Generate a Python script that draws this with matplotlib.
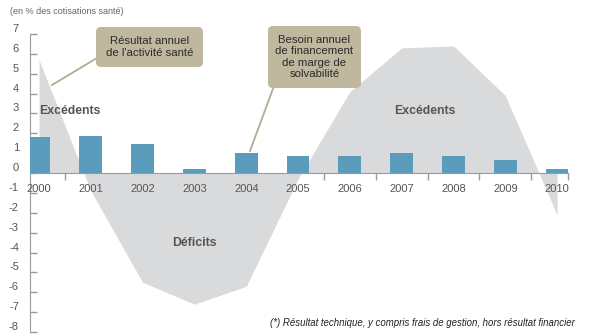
import matplotlib
matplotlib.use("Agg")
import matplotlib.pyplot as plt
from matplotlib.patches import FancyBboxPatch
from matplotlib.transforms import ScaledTranslation
import numpy as np

plt.rcParams['font.family'] = ['Liberation Sans', 'DejaVu Sans']

# Data
years = ["2000", "2001", "2002", "2003", "2004", "2005",
         "2006", "2007", "2008", "2009", "2010"]
# Annual financing need for the solvency margin (bars)
besoin_marge = [1.8, 1.85, 1.45, 0.2, 1.0, 0.85, 0.85, 1.0, 0.85, 0.65, 0.2]
# Annual result of the health activity (grey area)
resultat_sante = [5.7, -0.9, -5.5, -6.6, -5.7, -0.3, 4.1, 6.3, 6.4, 3.9, -2.1]
yticks = list(range(-8, 8))

W, H, DPI = 600, 336, 100
fig = plt.figure(figsize=(W / DPI, H / DPI), dpi=DPI)
ax = fig.add_axes([30 / W, 4 / H, 538 / W, 298 / H])

x = np.arange(len(years))
x_right = 10.21
ax.set_xlim(-0.174, x_right)
ax.set_ylim(-8, 7)

grey_area = '#d9dadc'
bar_col = '#5b9bbb'
axis_col = '#9a9a9a'
tan = '#c0b79f'

ax.fill_between(x, resultat_sante, 0, color=grey_area, linewidth=0, zorder=1)
ax.bar(x, besoin_marge, width=0.44, color=bar_col, zorder=3)

# Axes styling
for s in ['top', 'right']:
    ax.spines[s].set_visible(False)
ax.spines['bottom'].set_position(('data', 0))
ax.spines['bottom'].set_color(axis_col)
ax.spines['left'].set_color(axis_col)
ax.spines['bottom'].set_zorder(2.5)
ax.set_axisbelow(True)

ax.set_xticks(list(x[:-1] + 0.5) + [x_right])
ax.set_xticklabels([])
ax.tick_params(axis='x', direction='out', length=5, width=1, color=axis_col)

ax.set_yticks(yticks)
ax.set_yticklabels([str(v) for v in yticks])
ax.tick_params(axis='y', direction='in', length=5, width=1, color=axis_col,
               labelsize=8, labelcolor='#555555', pad=8)
shift = ScaledTranslation(0, 6 / DPI, fig.dpi_scale_trans)
for lab in ax.get_yticklabels():
    lab.set_transform(lab.get_transform() + shift)

# Year labels drawn above the grey area
for xi, yr in zip(x, years):
    ax.text(xi, -0.8, yr, ha='center', va='center', fontsize=8,
            color='#555555', zorder=4)

# Region labels
ax.text(0.6, 3.1, "Excédents", ha='center', va='center', fontsize=8.8,
        fontweight='bold', color='#555555', zorder=4)
ax.text(7.45, 3.1, "Excédents", ha='center', va='center', fontsize=8.8,
        fontweight='bold', color='#555555', zorder=4)
ax.text(2.99, -3.5, "Déficits", ha='center', va='center', fontsize=8.8,
        fontweight='bold', color='#555555', zorder=4)

# Callout boxes (pixel positions converted to inches)
def px(xp, yp):
    return xp / DPI, (H - yp) / DPI

def callout(x0, y0, x1, y1, lines, line_from, line_to):
    bx, by = px(x0, y1)
    box = FancyBboxPatch((bx, by), (x1 - x0) / DPI, (y1 - y0) / DPI,
                         boxstyle="round,pad=0,rounding_size=0.05",
                         transform=fig.dpi_scale_trans, facecolor=tan,
                         edgecolor='none', zorder=5)
    fig.patches.append(box)
    lx = [line_from[0] / DPI, line_to[0] / DPI]
    ly = [(H - line_from[1]) / DPI, (H - line_to[1]) / DPI]
    fig.add_artist(plt.Line2D(lx, ly, transform=fig.dpi_scale_trans,
                              color='#b5ab90', lw=1.3, zorder=4))
    cx, cy = px((x0 + x1) / 2, (y0 + y1) / 2)
    fig.text(cx, cy, lines, transform=fig.dpi_scale_trans, ha='center',
             va='center', fontsize=8.2, color='#2a2a2a', linespacing=1.15,
             zorder=6)

callout(96, 27, 203, 67, "Résultat annuel\nde l'activité santé",
        (97, 58), (52, 85))
callout(268, 26, 361, 88,
        "Besoin annuel\nde financement\nde marge de\nsolvabilité",
        (274, 86), (250, 151))

fig.text(10 / W, 1 - 12 / H, "(en % des cotisations santé)", ha='left',
         va='center', fontsize=6.5, color='#666666')
fig.text(575 / W, 1 - 323 / H,
         "(*) Résultat technique, y compris frais de gestion, hors résultat financier",
         ha='right', va='center', fontsize=6.9, style='italic', color='#222222')

fig.savefig("out.png", dpi=DPI)
